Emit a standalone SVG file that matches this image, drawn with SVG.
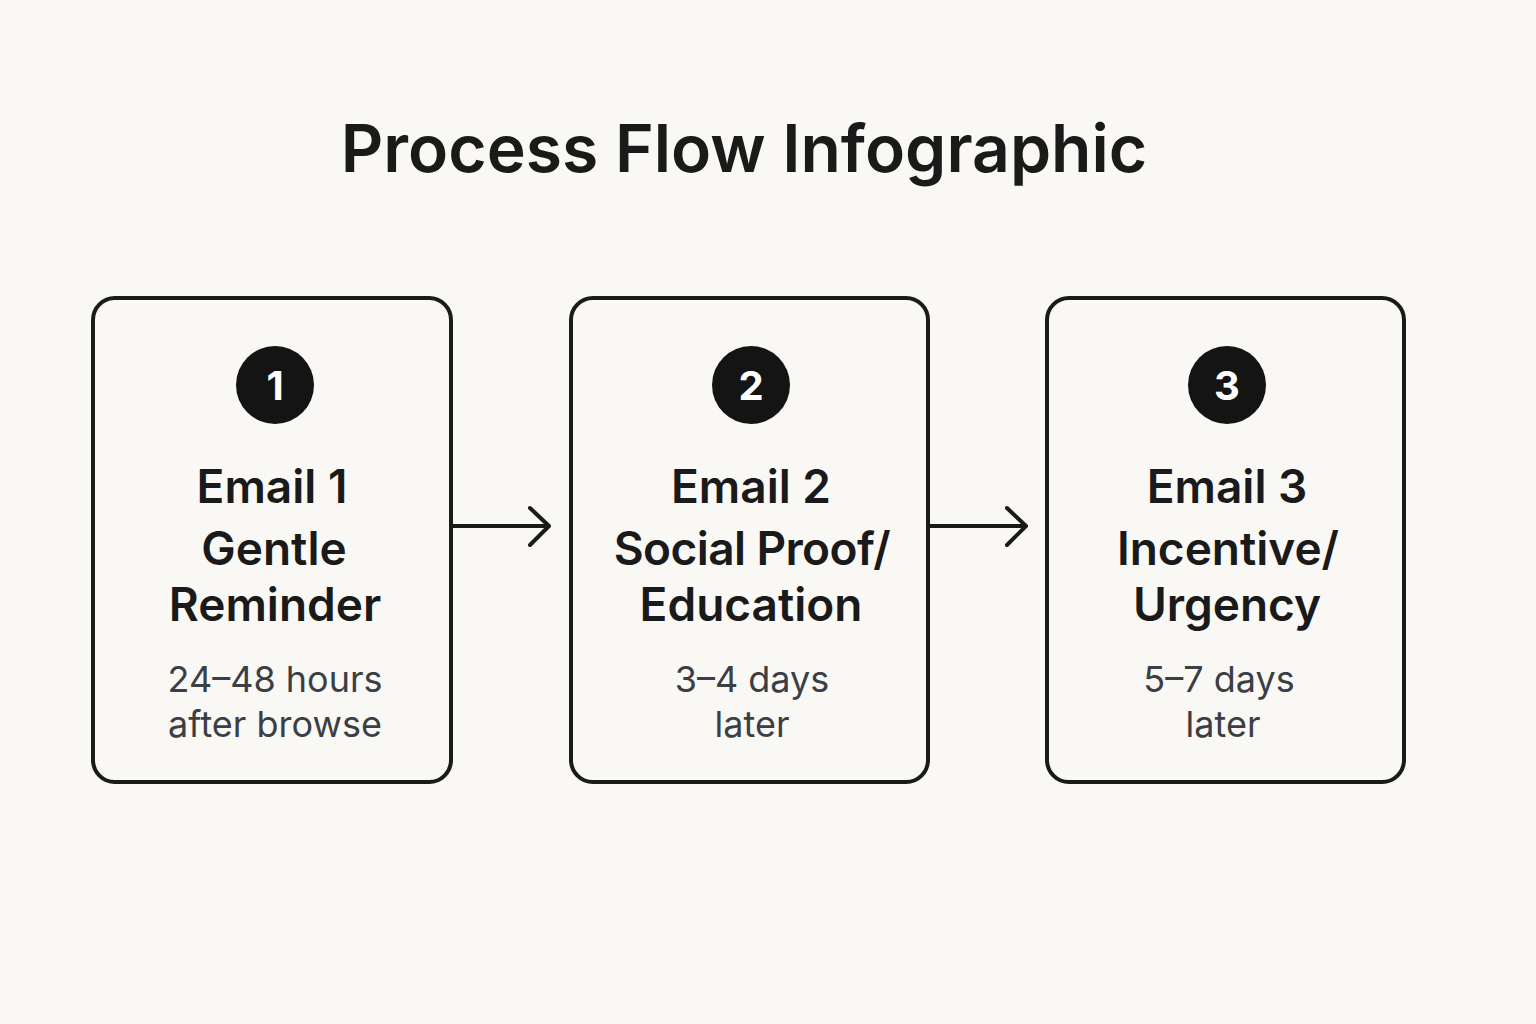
<svg xmlns="http://www.w3.org/2000/svg" width="1536" height="1024" viewBox="0 0 1536 1024">
<style>
.box{fill:none;stroke:#1a1a1a;stroke-width:4}
.circ{fill:#141414}
.num{font-family:Inter,"Liberation Sans",sans-serif;font-weight:700;font-size:40px;fill:#fff;text-anchor:middle}
.t{font-family:Inter,"Liberation Sans",sans-serif;font-weight:600;font-size:46px;fill:#1a1a1a;text-anchor:middle}
.s{font-family:Inter,"Liberation Sans",sans-serif;font-size:36px;fill:#3a3f45;text-anchor:middle}
.c{fill:none;stroke:#1a1a1a;stroke-width:4;stroke-linecap:round;stroke-linejoin:round}
</style>
<rect width="1536" height="1024" fill="#faf8f4"/>
<text x="744" y="172" font-family="Inter,'Liberation Sans',sans-serif" font-weight="600" font-size="66" fill="#1a1a1a" text-anchor="middle">Process Flow Infographic</text>
<g id="n1"><rect class="box" x="93" y="298" width="358" height="484" rx="22"/><circle class="circ" cx="275" cy="385" r="39"/><text class="num" x="275" y="400">1</text>
<text class="t" x="272" y="503">Email 1</text><text class="t" x="274" y="565">Gentle</text><text class="t" x="275" y="621">Reminder</text>
<text class="s" x="275" y="692">24–48 hours</text><text class="s" x="275" y="737">after browse</text></g>
<g id="n2"><rect class="box" x="571" y="298" width="357" height="484" rx="22"/><circle class="circ" cx="751" cy="385" r="39"/><text class="num" x="751" y="400">2</text>
<text class="t" x="751" y="503">Email 2</text><text class="t" x="752" y="565" letter-spacing="-0.6">Social Proof/</text><text class="t" x="751" y="621">Education</text>
<text class="s" x="752" y="692">3–4 days</text><text class="s" x="752" y="737">later</text></g>
<g id="n3"><rect class="box" x="1047" y="298" width="357" height="484" rx="22"/><circle class="circ" cx="1227" cy="385" r="39"/><text class="num" x="1227" y="400">3</text>
<text class="t" x="1227" y="503">Email 3</text><text class="t" x="1228" y="565">Incentive/</text><text class="t" x="1227" y="621">Urgency</text>
<text class="s" x="1219" y="692">5–7 days</text><text class="s" x="1223" y="737">later</text></g>
<g id="connectors">
<path class="c" d="M453 526H548M530 508L549 526L530 545"/>
<path class="c" d="M930 526H1025M1007 508L1026 526L1007 545"/>
</g>
</svg>
